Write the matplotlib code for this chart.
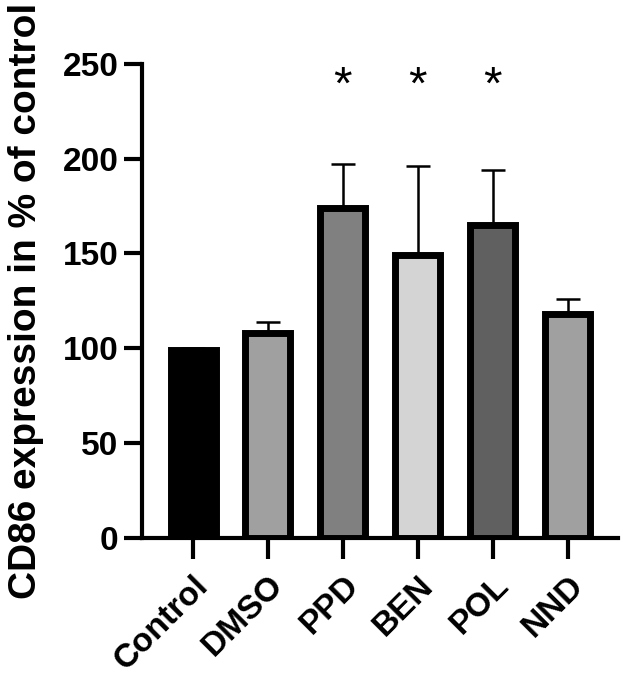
import matplotlib.pyplot as plt
import numpy as np

# values
groups = ['Control', 'DMSO', 'PPD', 'BEN', 'POL', 'NND']
means = [99, 108, 174, 149, 165, 118]
sd_upper = [1, 6, 23, 47, 29, 8]
colours = ['#000000', '#a0a0a0', '#808080', '#d4d4d4', '#606060', '#a0a0a0']
significant = [False, False, True, True, True, False]

plt.rcParams['font.family'] = ['Liberation Sans', 'DejaVu Sans']

fig = plt.figure(figsize=(6.23, 6.79), dpi=100)
ax = fig.add_axes([0.228, 0.208, 0.764, 0.698])

x = np.arange(len(groups))
ax.bar(x, means, width=0.6, color=colours, edgecolor='black', linewidth=5, zorder=3)
ax.errorbar(x, means, yerr=[np.zeros(len(means)), sd_upper], fmt='none',
            ecolor='black', elinewidth=1.8, capsize=8.5, capthick=1.8, zorder=2)

# significance stars
for i, sig in enumerate(significant):
    if sig:
        ax.text(x[i], 238, '*', ha='center', va='center', fontsize=34)

ax.set_xlim(-0.68, 5.67)
ax.set_ylim(0, 250)
ax.set_yticks([0, 50, 100, 150, 200, 250])
ax.set_xticks(x)
ax.set_xticklabels(groups, rotation=45, ha='right', rotation_mode='anchor',
                   fontsize=24, fontweight='bold')
for lab in ax.get_yticklabels():
    lab.set_fontsize(24)
    lab.set_fontweight('bold')

ax.set_ylabel('CD86 expression in % of control', fontsize=28, fontweight='bold')
ax.yaxis.set_label_coords(-0.205, 0.5)

ax.spines['top'].set_visible(False)
ax.spines['right'].set_visible(False)
ax.spines['left'].set_linewidth(3)
ax.spines['bottom'].set_linewidth(3)
ax.tick_params(axis='y', width=3, length=13, pad=4)
ax.tick_params(axis='x', width=3, length=15, pad=8)

fig.savefig('out.png', dpi=100)
plt.close()
